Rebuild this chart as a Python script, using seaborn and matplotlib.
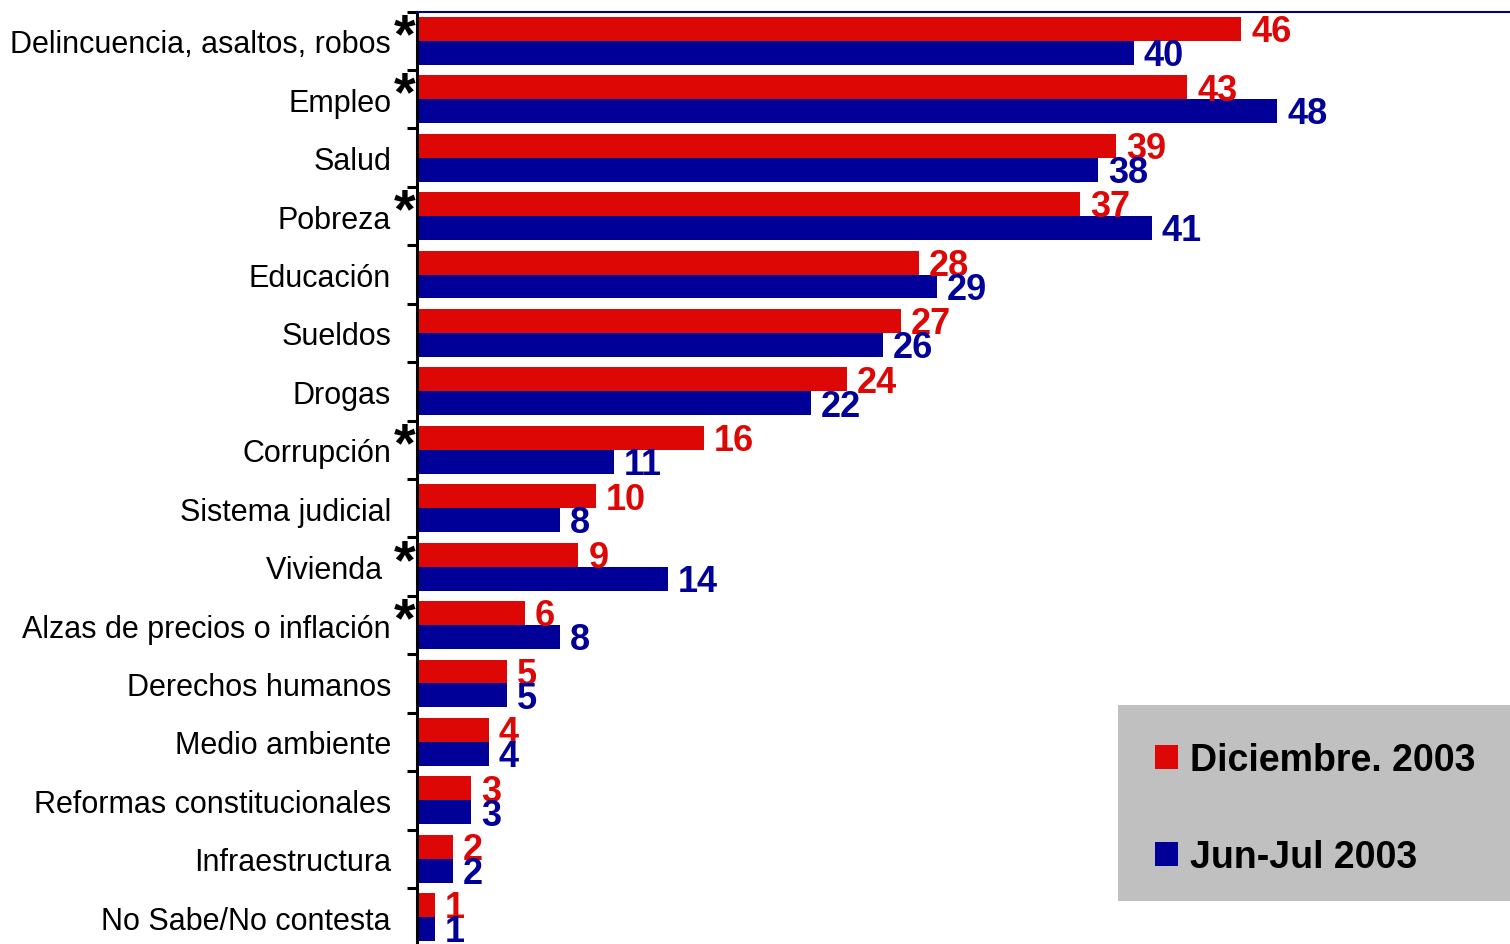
import matplotlib
matplotlib.use('Agg')
import matplotlib.pyplot as plt
import seaborn as sns
import pandas as pd
from matplotlib.patches import Rectangle, Patch
from matplotlib.ticker import FixedLocator

categories = ["Delincuencia, asaltos, robos", "Empleo", "Salud", "Pobreza",
              "Educación", "Sueldos", "Drogas", "Corrupción", "Sistema judicial",
              "Vivienda", "Alzas de precios o inflación", "Derechos humanos",
              "Medio ambiente", "Reformas constitucionales", "Infraestructura",
              "No Sabe/No contesta"]
dic_2003 = [46, 43, 39, 37, 28, 27, 24, 16, 10, 9, 6, 5, 4, 3, 2, 1]
junjul_2003 = [40, 48, 38, 41, 29, 26, 22, 11, 8, 14, 8, 5, 4, 3, 2, 1]
starred = ["Delincuencia, asaltos, robos", "Empleo", "Pobreza", "Corrupción",
           "Vivienda", "Alzas de precios o inflación"]
series_names = ["Diciembre. 2003", "Jun-Jul 2003"]
colors = ["#DD0806", "#000099"]

df = pd.DataFrame({
    "categoria": categories * 2,
    "serie": [series_names[0]] * len(categories) + [series_names[1]] * len(categories),
    "valor": dic_2003 + junjul_2003,
})

sns.set_style("white")
plt.rcParams["font.family"] = ["Liberation Sans", "DejaVu Sans"]
plt.rcParams["text.color"] = "black"

W, H = 1510, 945
fig = plt.figure(figsize=(W / 100, H / 100), dpi=100)
ax_left, ax_top, ax_bottom = 417, 12.6, 947.4
ax = fig.add_axes([ax_left / W, (H - ax_bottom) / H, (W - ax_left) / W, (ax_bottom - ax_top) / H])

sns.barplot(data=df, y="categoria", x="valor", hue="serie", order=categories,
            hue_order=series_names, palette=colors, orient="h", width=0.82,
            saturation=1, ax=ax, legend=False, edgecolor="none", linewidth=0)

for cont, col in zip(ax.containers, colors):
    anns = ax.bar_label(cont, padding=7.2, fontsize=26, fontweight="bold", color=col)
    for a in anns:
        a.xyann = (7.2, -2)

ax.set_xlim(0, 61)
ax.set_ylim(len(categories) - 0.5, -0.5)
ax.set_xlabel("")
ax.set_ylabel("")
ax.set_xticks([])

ax.set_yticks(range(len(categories)))
ax.set_yticklabels([c + " " if c == "Vivienda" else c for c in categories], fontsize=22, color="black")
ax.yaxis.set_minor_locator(FixedLocator([i - 0.5 for i in range(len(categories) + 1)]))
ax.tick_params(axis="y", which="major", length=0, pad=18.7)
ax.tick_params(axis="y", which="minor", length=7.2, width=2.2, color="black", direction="out", left=True)

for s in ["right", "bottom"]:
    ax.spines[s].set_visible(False)
ax.spines["left"].set_color("black")
ax.spines["left"].set_linewidth(2.2)
ax.spines["top"].set_color("#000080")
ax.spines["top"].set_linewidth(1.5)

for i, c in enumerate(categories):
    if c in starred:
        ax.annotate("*", xy=(0, i), xycoords=("axes fraction", "data"),
                    xytext=(-8.6, 2.5), textcoords="offset points",
                    ha="center", va="center", fontsize=40, fontweight="bold",
                    color="black", annotation_clip=False)

fig.add_artist(Rectangle((1118 / W, (H - 902) / H), (W - 1118) / W, (902 - 706) / H,
                         transform=fig.transFigure, facecolor="#C0C0C0",
                         edgecolor="none", zorder=3))
handles = [Patch(facecolor=c, edgecolor="none") for c in colors]
leg = fig.legend(handles, series_names, loc="center left",
                 bbox_to_anchor=(1155 / W, 1 - 809.5 / H), frameon=False,
                 prop={"size": 27, "weight": "bold"}, handlelength=0.61,
                 handleheight=0.61, handletextpad=0.32, labelspacing=1.63,
                 borderpad=0, borderaxespad=0, labelcolor="black")
leg.set_zorder(5)

fig.savefig("out.png", dpi=100)
